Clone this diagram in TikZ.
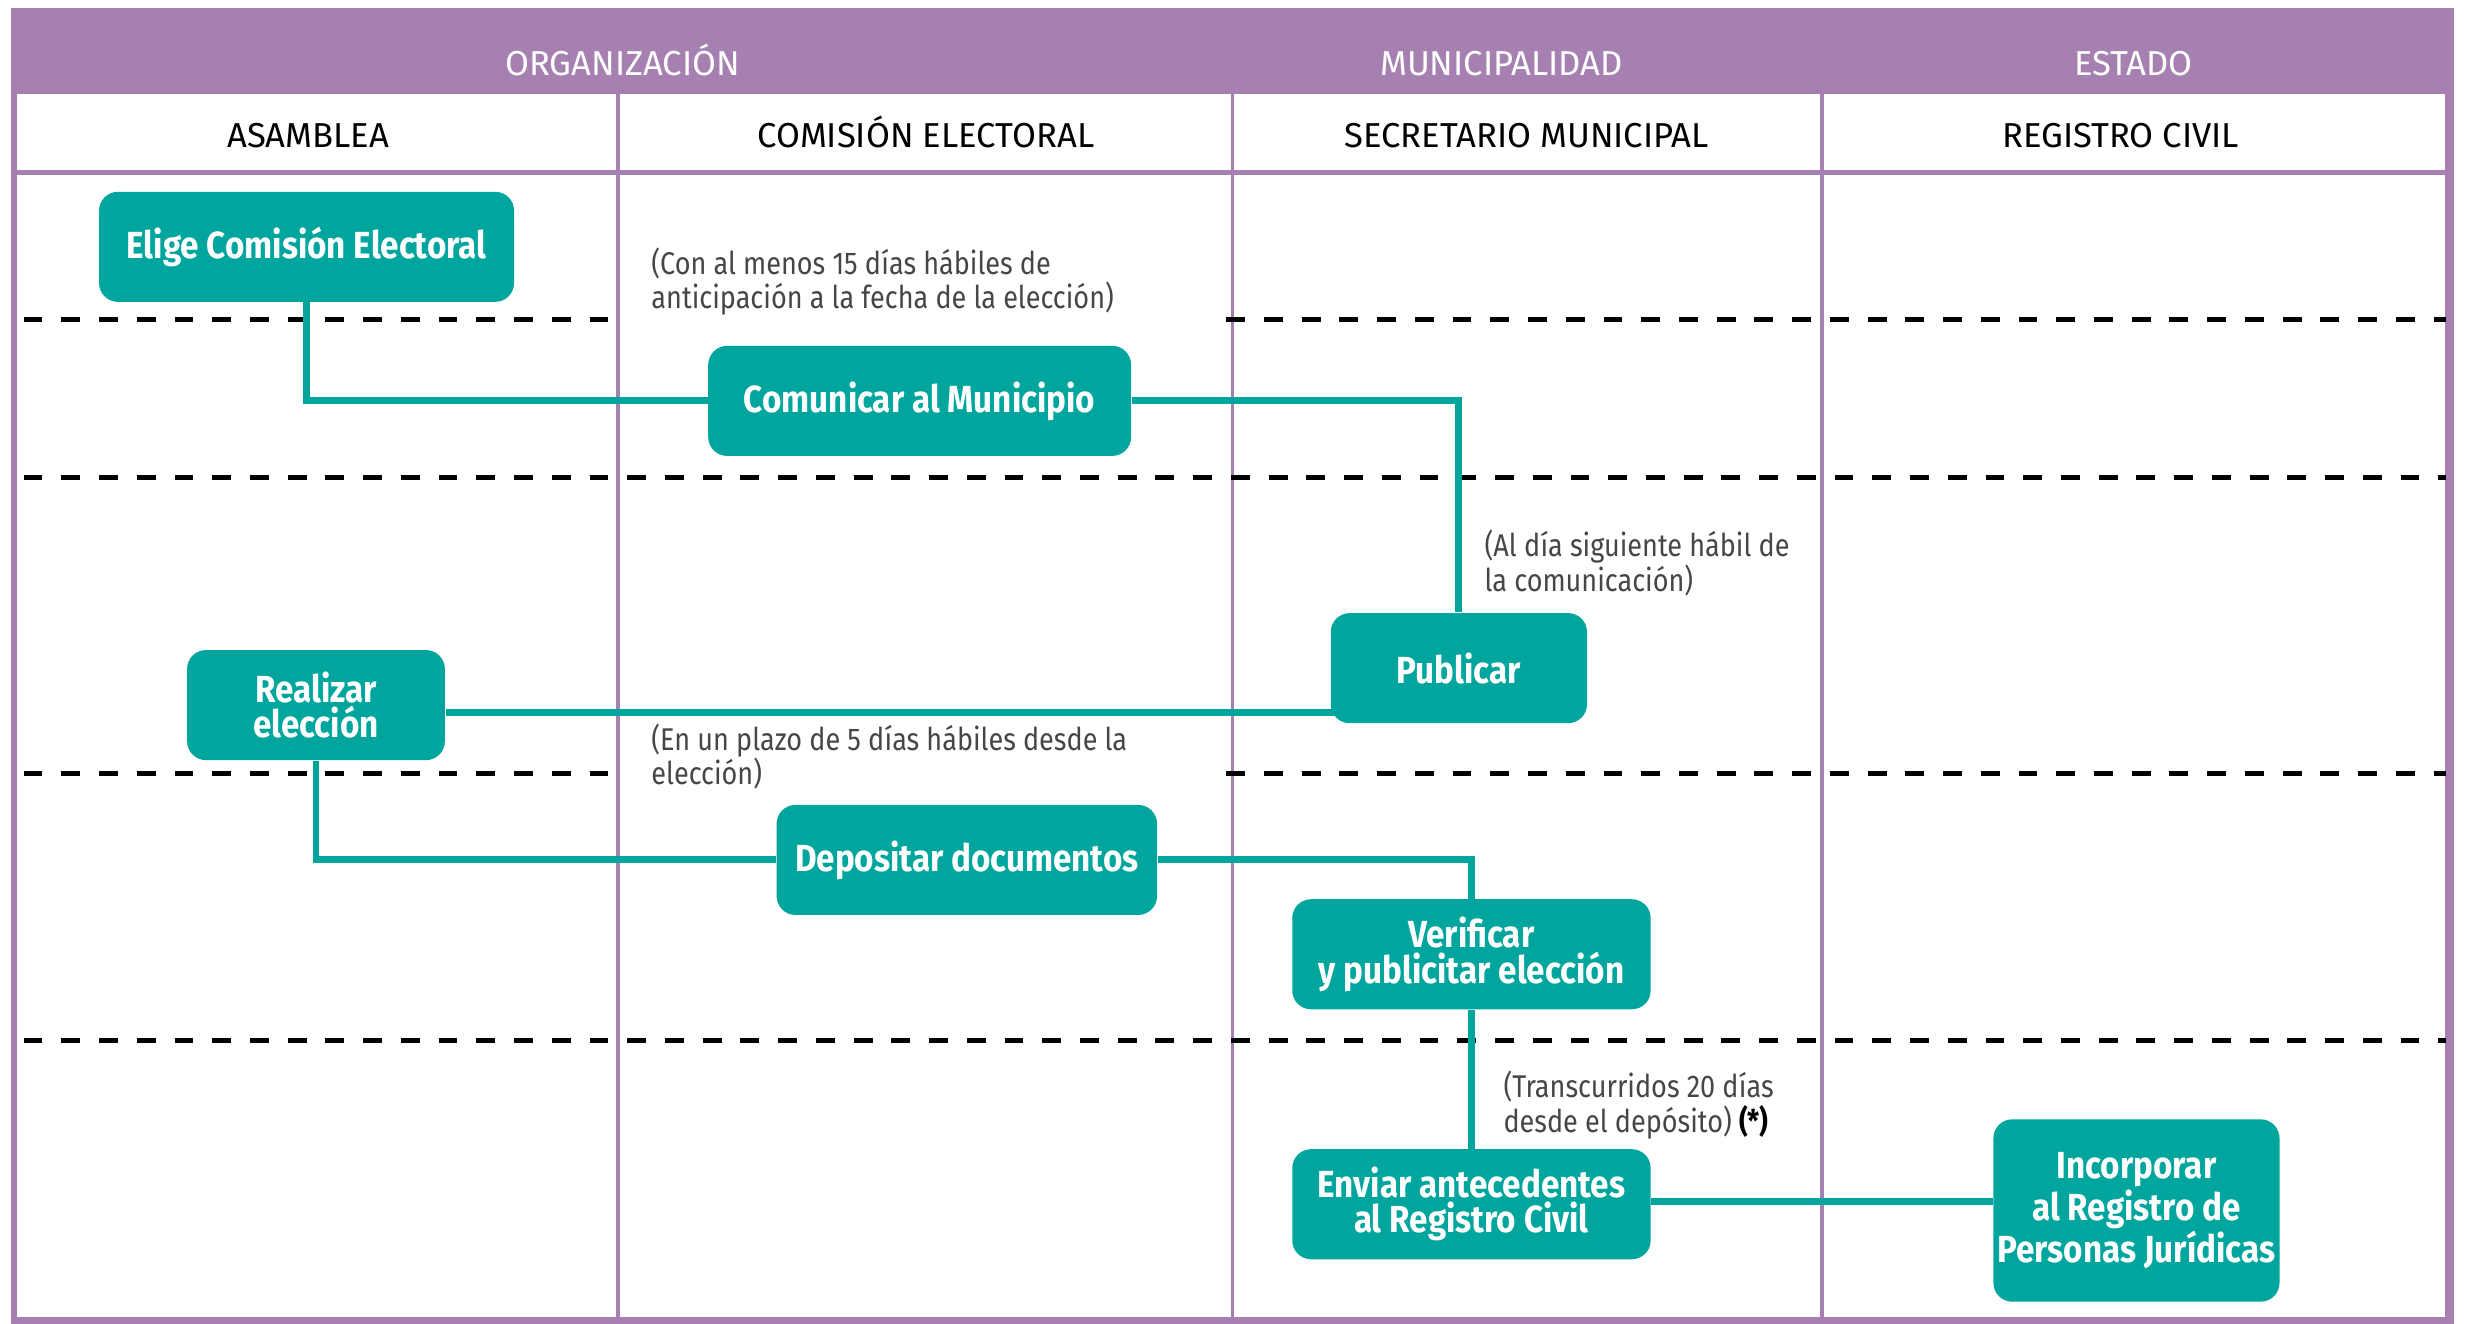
\documentclass[tikz,border=0pt]{standalone}
\usepackage{fontspec}
\setmainfont[FakeStretch=0.88]{Fira Sans}
\newfontfamily\hdrfont{Fira Sans}
\newfontfamily\notefont[FakeStretch=0.86]{Fira Sans}
\definecolor{purp}{RGB}{167,128,178}
\definecolor{tealc}{RGB}{0,166,157}
\definecolor{notegray}{RGB}{70,70,70}
\pgfdeclarelayer{bg}
\pgfdeclarelayer{conn}
\pgfsetlayers{bg,conn,main}
\tikzset{
  stepbox/.style={fill=tealc, rounded corners=6pt, text=white, inner sep=0pt,
    font=\bfseries\fontsize{12}{10}\selectfont, align=center, minimum height=35pt},
  hdrtop/.style={text=white, font=\hdrfont\fontsize{11}{12}\selectfont, inner sep=0pt, anchor=base},
  hdrsub/.style={text=black, font=\hdrfont\fontsize{11}{12}\selectfont, inner sep=0pt, anchor=base},
  notetxt/.style={text=notegray, font=\notefont\fontsize{10}{11}\selectfont, align=left, anchor=north west, inner sep=0pt},
  conn/.style={draw=tealc, line width=2.2pt},
  dashline/.style={draw=black, line width=1.6pt, dash pattern=on 6pt off 6pt},
  colline/.style={draw=purp, line width=1.2pt}
}
\begin{document}
\begin{tikzpicture}[x=0.5pt,y=-0.5pt]
\useasboundingbox (0,0) rectangle (1568,842);
\begin{pgfonlayer}{bg}
  \fill[purp] (7,5) rectangle (1561,842);
  \fill[white] (11,60) rectangle (1555,838);
  \draw[purp, line width=1.6pt] (11,110) -- (1555,110);
  \draw[colline] (393,60) -- (393,838);
  \draw[colline] (784,60) -- (784,838);
  \draw[colline] (1159,60) -- (1159,838);
  \draw[dashline] (15,203) -- (393,203);
  \draw[dashline] (780,203) -- (1556,203);
  \draw[dashline] (15,304) -- (1556,304);
  \draw[dashline] (15,492) -- (393,492);
  \draw[dashline] (780,492) -- (1556,492);
  \draw[dashline] (15,662) -- (1556,662);
\end{pgfonlayer}

% headers
\node[hdrtop] (hOrg) at (396,48) {ORGANIZACIÓN};
\node[hdrtop] (hMun) at (955,48) {MUNICIPALIDAD};
\node[hdrtop] (hEst) at (1357,48) {ESTADO};
\node[hdrsub] (hAsa) at (196,94) {ASAMBLEA};
\node[hdrsub] (hCom) at (589,94) {COMISIÓN ELECTORAL};
\node[hdrsub] (hSec) at (971,94) {SECRETARIO MUNICIPAL};
\node[hdrsub] (hReg) at (1349,94) {REGISTRO CIVIL};

% steps
\node[stepbox, minimum width=132pt] (elige) at (195,157) {Elige Comisión Electoral};
\node[stepbox, minimum width=134.5pt] (com) at (585,255) {Comunicar al Municipio};
\node[stepbox, minimum width=81.5pt] (pub) at (928,425) {Publicar};
\node[stepbox, minimum width=82pt] (real) at (201,448.5) {Realizar\\elección};
\node[stepbox, minimum width=121pt] (dep) at (615,547) {Depositar documentos};
\node[stepbox, minimum width=114pt] (ver) at (936,607) {Verificar\\ y publicitar elección};
\node[stepbox, minimum width=114pt, font=\bfseries\fontsize{12}{11.2}\selectfont] (env) at (936,766) {Enviar antecedentes\\al Registro Civil};
\node[stepbox, minimum width=91pt, minimum height=58pt, font=\bfseries\fontsize{12}{13.3}\selectfont] (inc) at (1359,770) {Incorporar\\al Registro de\\Personas Jurídicas};

% notes
\node[notetxt] (n1) at (414,157) {(Con al menos 15 días hábiles de\\anticipación a la fecha de la elección)};
\node[notetxt] (n2) at (944,337) {(Al día siguiente hábil de\\la comunicación)};
\node[notetxt] (n3) at (414,460) {(En un plazo de 5 días hábiles desde la\\elección)};
\node[notetxt] (n4) at (956,681) {(Transcurridos 20 días\\desde el depósito) \textcolor{black}{\bfseries(*)}};

% connectors
\begin{pgfonlayer}{conn}
  \draw[conn] (elige.south) |- (com.west);
  \draw[conn] (com.east) -| (pub.north);
  \draw[conn] ([yshift=-14pt]pub.center) -- ([yshift=-14pt]pub.center -| real.east);
  \draw[conn] (real.south) |- (dep.west);
  \draw[conn] (dep.east) -| (ver.north);
  \draw[conn] (ver.south) -- (env.north);
  \draw[conn] ([yshift=1pt]env.east) -- ([yshift=1pt]env.east -| inc.west);
\end{pgfonlayer}
\end{tikzpicture}
\end{document}
